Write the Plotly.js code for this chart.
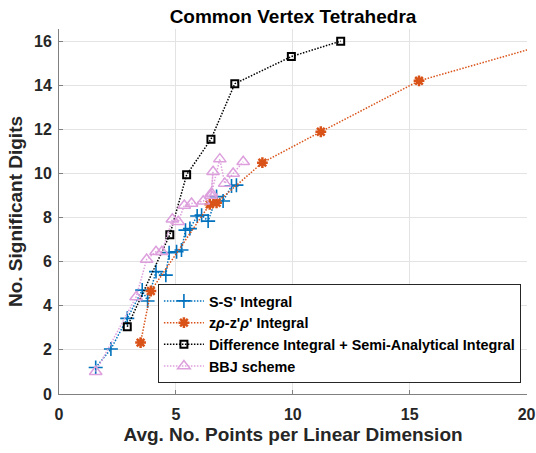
<!DOCTYPE html>
<html>
<head>
<meta charset="utf-8">
<script src="https://cdn.plot.ly/plotly-3.0.1.min.js"></script>
<style>html,body{margin:0;padding:0;background:#fff;}#chart{width:536px;height:453px;}</style>
</head>
<body>
<div id="chart"></div>
<script>
// S-S' Integral
const ssX = [1.57, 2.22, 2.92, 3.56, 3.79, 4.15, 4.57, 4.71, 5.03, 5.24, 5.41, 5.60, 5.91, 6.10, 6.38, 6.74, 7.02, 7.38, 7.59];
const ssY = [1.20, 2.04, 3.43, 4.71, 4.22, 5.55, 5.39, 6.41, 6.45, 6.53, 7.43, 7.50, 8.07, 8.11, 7.84, 8.95, 8.75, 9.43, 9.47];
// z rho - z' rho' Integral
const zX = [3.49, 3.93, 6.45, 6.74, 8.70, 11.2, 15.4, 22.0];
const zY = [2.33, 4.67, 8.60, 8.67, 10.49, 11.89, 14.2, 16.2];
// Difference Integral + Semi-Analytical Integral
const dX = [2.92, 4.74, 5.46, 6.50, 7.52, 9.94, 12.05];
const dY = [3.05, 7.22, 9.94, 11.55, 14.07, 15.30, 16.00];
// BBJ scheme
const bX = [1.57, 3.30, 3.75, 4.15, 4.40, 4.85, 5.10, 5.36, 5.67, 6.17, 6.52, 6.59, 6.50, 6.88, 7.09, 7.45, 7.88];
const bY = [1.01, 4.40, 6.10, 6.45, 6.45, 7.92, 7.81, 8.55, 8.64, 8.74, 9.10, 10.08, 9.00, 10.65, 9.55, 10.00, 10.53];

const seriesNames = ["S-S' Integral", "z<i>ρ</i>-z'<i>ρ</i>' Integral", "Difference Integral + Semi-Analytical Integral", "BBJ scheme"];
const xTicks = [0, 5, 10, 15, 20];
const yTicks = [0, 2, 4, 6, 8, 10, 12, 14, 16];
const dash = '1.5px,1.5px';

const traces = [
  {x: ssX, y: ssY, name: seriesNames[0], mode: 'lines+markers',
   line: {color: '#0072BD', width: 1.5, dash: dash},
   marker: {symbol: 'cross-thin-open', size: 10, color: '#0072BD', line: {color: '#0072BD', width: 1.6}}},
  {x: zX, y: zY, name: seriesNames[1], mode: 'lines+markers',
   line: {color: '#D95319', width: 1.5, dash: dash},
   marker: {symbol: 'asterisk-open', size: 9, color: '#D95319', line: {color: '#D95319', width: 2.5}}},
  {x: dX, y: dY, name: seriesNames[2], mode: 'lines+markers',
   line: {color: '#000000', width: 1.5, dash: dash},
   marker: {symbol: 'square-open', size: 7, color: '#000000', line: {color: '#000000', width: 2}}},
  {x: bX, y: bY, name: seriesNames[3], mode: 'lines+markers',
   line: {color: '#DDA0DD', width: 1.5, dash: dash},
   marker: {symbol: 'triangle-up-open', size: 11, color: '#DDA0DD', line: {color: '#DDA0DD', width: 1.5}}}
];

const fontFam = 'Liberation Sans, Arial, sans-serif';
const layout = {
  width: 536, height: 453,
  margin: {l: 59, r: 9, t: 29, b: 59},
  paper_bgcolor: '#ffffff', plot_bgcolor: '#ffffff',
  font: {family: fontFam, color: '#262626'},
  title: {text: '<b>Common Vertex Tetrahedra</b>', font: {size: 19, color: '#000000', family: fontFam},
          x: 0.5, xref: 'paper', y: 1 - 16/453, yref: 'container', yanchor: 'middle'},
  showlegend: true,
  legend: {x: 0.987, xanchor: 'right', y: 0.03, yanchor: 'bottom',
           bgcolor: '#ffffff', bordercolor: '#262626', borderwidth: 1, itemwidth: 40,
           font: {size: 14.4, color: '#000000', family: fontFam, weight: 'bold'}},
  xaxis: {range: [0, 20.02], tickvals: xTicks, ticktext: xTicks.map(String),
          showgrid: true, gridcolor: '#e3e3e3', gridwidth: 1, zeroline: false,
          showline: true, linecolor: '#808080', linewidth: 1,
          ticks: 'inside', ticklen: 4, tickcolor: '#808080', ticklabelstandoff: 6,
          tickfont: {size: 16, color: '#262626', family: fontFam, weight: 'bold'},
          title: {text: 'Avg. No. Points per Linear Dimension', font: {size: 19, color: '#262626', family: fontFam, weight: 'bold'}, standoff: 5},
          automargin: false},
  yaxis: {range: [0, 16.55], tickvals: yTicks,
          showgrid: true, gridcolor: '#e3e3e3', gridwidth: 1, zeroline: false,
          showline: true, linecolor: '#808080', linewidth: 1,
          ticks: 'inside', ticklen: 4, tickcolor: '#808080', ticklabelstandoff: 3,
          tickfont: {size: 16, color: '#262626', family: fontFam, weight: 'bold'},
          title: {text: 'No. Significant Digits', font: {size: 19, color: '#262626', family: fontFam, weight: 'bold'}, standoff: 6},
          automargin: false}
};

Plotly.newPlot('chart', traces, layout, {displayModeBar: false, staticPlot: true});
</script>
</body>
</html>
